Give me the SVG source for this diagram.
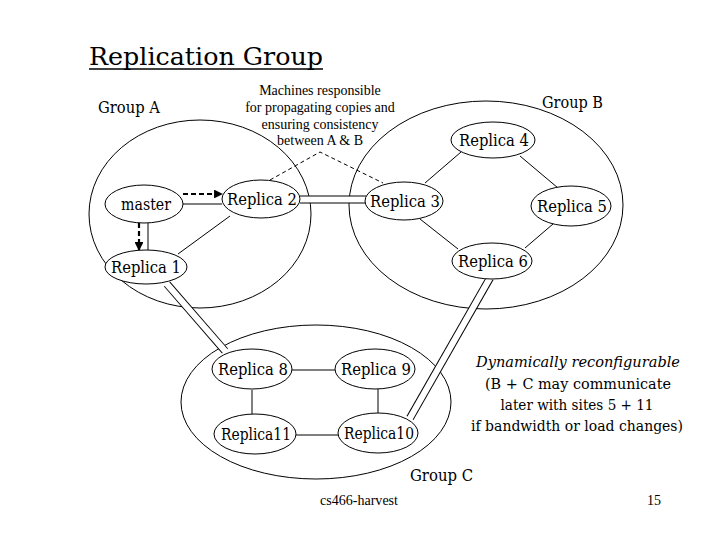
<svg xmlns="http://www.w3.org/2000/svg" width="720" height="540" viewBox="0 0 720 540">
<defs>
<style>
text{fill:#000}
.big{font-family:"DejaVu Serif",serif}
.small{font-family:"Liberation Serif","Times New Roman",serif;font-size:14px}
.lbl{text-anchor:middle;font-size:17px}
.grp{fill:none;stroke:#000;stroke-width:1}
.node{fill:#fff;stroke:#000;stroke-width:1}
.ln{stroke:#000;stroke-width:1;fill:none}
.dash{stroke:#000;stroke-width:1;stroke-dasharray:4 3;fill:none}
.bdash{stroke:#000;stroke-width:2.2;stroke-dasharray:5 3;fill:none}
.dblo{stroke:#000;stroke-width:8;fill:none}
.dbli{stroke:#fff;stroke-width:6;fill:none}
.note{text-anchor:middle}
</style>
<marker id="ah" viewBox="0 0 10 10" refX="9" refY="5" markerWidth="4" markerHeight="4" orient="auto" markerUnits="strokeWidth">
<path d="M0,0 L10,5 L0,10 z" fill="#000"/>
</marker>
</defs>
<rect width="720" height="540" fill="#fff"/>

<g id="title">
<text class="big" x="89" y="65" font-size="25" textLength="234" lengthAdjust="spacingAndGlyphs">Replication Group</text>
<line x1="89" y1="69" x2="323" y2="69" stroke="#000" stroke-width="1.5"/>
</g>

<g id="groupA">
<ellipse class="grp" cx="200" cy="214" rx="111" ry="94"/>
<text class="big" x="98" y="113" font-size="16" textLength="62" lengthAdjust="spacingAndGlyphs">Group A</text>
</g>
<g id="groupB">
<ellipse class="grp" cx="486" cy="205" rx="137" ry="104"/>
<text class="big" x="542" y="108" font-size="16" textLength="61" lengthAdjust="spacingAndGlyphs">Group B</text>
</g>
<g id="groupC">
<ellipse class="grp" cx="316" cy="402" rx="135" ry="77"/>
<text class="big" x="410" y="481" font-size="16" textLength="63" lengthAdjust="spacingAndGlyphs">Group C</text>
</g>

<g id="note-machines">
<text class="small note" x="320" y="95">Machines responsible</text>
<text class="small note" x="320" y="112">for propagating copies and</text>
<text class="small note" x="320" y="129">ensuring consistency</text>
<text class="small note" x="320" y="145">between A &amp; B</text>
</g>

<g id="connectors">
<line class="ln" x1="183" y1="204" x2="222" y2="204"/>
<line class="bdash" x1="183" y1="194" x2="222" y2="194" marker-end="url(#ah)"/>
<line class="ln" x1="148" y1="223" x2="148" y2="250"/>
<line class="bdash" x1="139" y1="223" x2="139" y2="250" marker-end="url(#ah)"/>
<line class="ln" x1="230" y1="216" x2="178" y2="254"/>
<line class="dblo" x1="300" y1="199.5" x2="366" y2="199.5"/>
<line class="dbli" x1="299" y1="199.5" x2="367" y2="199.5"/>
<polyline class="dash" points="270,180 320,152 383,183"/>
<line class="ln" x1="425" y1="183" x2="461" y2="152"/>
<line class="ln" x1="520" y1="156" x2="558" y2="188"/>
<line class="ln" x1="420" y1="219" x2="458" y2="249"/>
<line class="ln" x1="553" y1="224" x2="525" y2="248"/>
<line class="dblo" x1="167" y1="284" x2="225" y2="351"/>
<line class="dbli" x1="166" y1="283" x2="226" y2="352"/>
<line class="dblo" x1="490" y1="278" x2="410" y2="418"/>
<line class="dbli" x1="490.5" y1="277" x2="409.5" y2="419"/>
<line class="ln" x1="292" y1="370" x2="335" y2="370"/>
<line class="ln" x1="252" y1="390" x2="252" y2="414"/>
<line class="ln" x1="378" y1="389" x2="378" y2="413"/>
<line class="ln" x1="296" y1="435" x2="338" y2="435"/>
</g>

<g id="master"><ellipse class="node" cx="144" cy="204" rx="39" ry="19"/><text class="big lbl" x="146" y="210" textLength="50" lengthAdjust="spacingAndGlyphs">master</text></g>
<g id="replica2"><ellipse class="node" cx="261" cy="199" rx="39" ry="19"/><text class="big lbl" x="262" y="205" textLength="70" lengthAdjust="spacingAndGlyphs">Replica 2</text></g>
<g id="replica3"><ellipse class="node" cx="404" cy="201" rx="39" ry="19"/><text class="big lbl" x="405" y="207" textLength="70" lengthAdjust="spacingAndGlyphs">Replica 3</text></g>
<g id="replica4"><ellipse class="node" cx="493" cy="140" rx="42" ry="18"/><text class="big lbl" x="494" y="146" textLength="70" lengthAdjust="spacingAndGlyphs">Replica 4</text></g>
<g id="replica5"><ellipse class="node" cx="571" cy="206" rx="40" ry="20"/><text class="big lbl" x="572" y="212" textLength="70" lengthAdjust="spacingAndGlyphs">Replica 5</text></g>
<g id="replica6"><ellipse class="node" cx="492" cy="261" rx="40" ry="18"/><text class="big lbl" x="493" y="267" textLength="70" lengthAdjust="spacingAndGlyphs">Replica 6</text></g>
<g id="replica1"><ellipse class="node" cx="146" cy="267" rx="41" ry="17"/><text class="big lbl" x="146" y="273" textLength="70" lengthAdjust="spacingAndGlyphs">Replica 1</text></g>
<g id="replica8"><ellipse class="node" cx="252" cy="369" rx="40" ry="20"/><text class="big lbl" x="253" y="375" textLength="70" lengthAdjust="spacingAndGlyphs">Replica 8</text></g>
<g id="replica9"><ellipse class="node" cx="375" cy="369" rx="40" ry="20"/><text class="big lbl" x="376" y="375" textLength="70" lengthAdjust="spacingAndGlyphs">Replica 9</text></g>
<g id="replica11"><ellipse class="node" cx="255" cy="434" rx="41" ry="20"/><text class="big lbl" x="256" y="440" textLength="70" lengthAdjust="spacingAndGlyphs">Replica11</text></g>
<g id="replica10"><ellipse class="node" cx="378" cy="433" rx="40" ry="20"/><text class="big lbl" x="379" y="439" textLength="70" lengthAdjust="spacingAndGlyphs">Replica10</text></g>

<g id="note-dynamic">
<text class="big note" x="578" y="367" font-size="15" font-style="italic" textLength="204" lengthAdjust="spacingAndGlyphs">Dynamically reconfigurable</text>
<text class="big note" x="578" y="389" font-size="15" textLength="186" lengthAdjust="spacingAndGlyphs">(B + C may communicate</text>
<text class="big note" x="577" y="410" font-size="15" textLength="153" lengthAdjust="spacingAndGlyphs">later with sites 5 + 11</text>
<text class="big note" x="577" y="431" font-size="15" textLength="212" lengthAdjust="spacingAndGlyphs">if bandwidth or load changes)</text>
</g>

<g id="footer">
<text class="small" x="320" y="505" textLength="78" lengthAdjust="spacingAndGlyphs">cs466-harvest</text>
<text class="small" x="647" y="505">15</text>
</g>
</svg>
